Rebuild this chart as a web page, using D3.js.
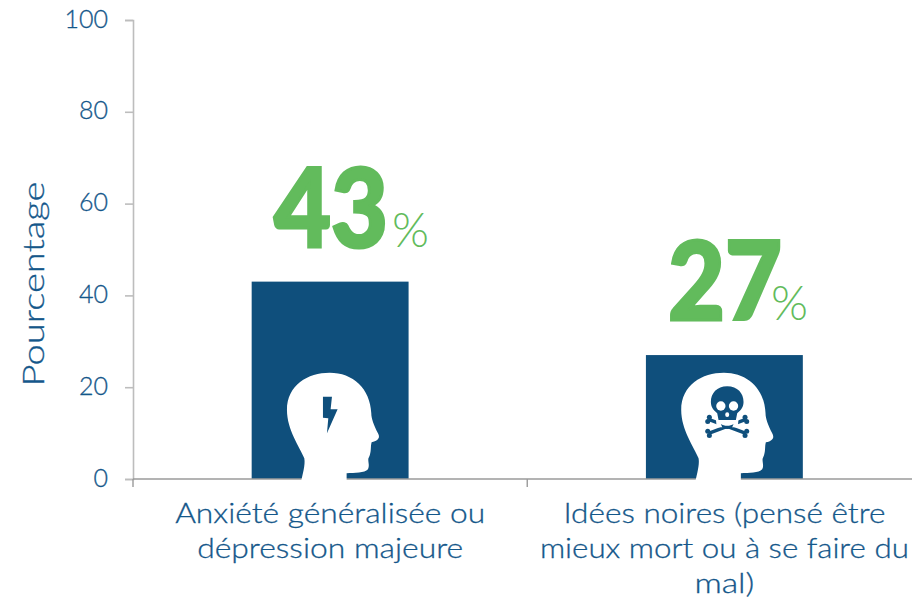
<!DOCTYPE html>
<html><head><meta charset="utf-8">
<script src="https://cdn.jsdelivr.net/npm/d3@7"></script>
<style>html,body{margin:0;padding:0;background:#fff}svg{display:block}text{font-family:Lato,sans-serif}</style>
</head><body><svg id="c" width="912" height="598"></svg>
<script>
const categories = ["Anxiété généralisée ou dépression majeure", "Idées noires (pensé être mieux mort ou à se faire du mal)"];
const categoryLines = [["Anxiété généralisée ou","dépression majeure"],["Idées noires (pensé être","mieux mort ou à se faire du","mal)"]];
const values = [43, 27];
const yTicks = [0, 20, 40, 60, 80, 100];
const yTitle = "Pourcentage";
const BLUE="#0f4f7c", TEXT="#14578a", GREEN="#62bb5c";
const svg=d3.select("#c");
const y=d3.scaleLinear().domain([0,100]).range([479,20]);
const x=d3.scaleBand().domain(categories).range([133,921.5]).padding(0);
const barW=x.bandwidth()*0.398;
const cx=c=>x(c)+x.bandwidth()/2;

svg.selectAll("rect.bar").data(values).join("rect").attr("class","bar")
 .attr("x",(d,i)=>cx(categories[i])-barW/2).attr("width",barW)
 .attr("y",d=>y(d)).attr("height",d=>y(0)-y(d)).attr("fill",BLUE);

// y axis
const ya=svg.append("g").attr("transform","translate(133,0)").call(d3.axisLeft(y).tickValues(yTicks).tickSize(8).tickPadding(16));
ya.selectAll("path,line").attr("stroke","#bdbdbd").attr("stroke-width",1.6);
ya.selectAll("text").attr("fill",TEXT).attr("stroke",TEXT).attr("stroke-width",0.3).attr("font-size",25).attr("font-weight",300).attr("dy","0.28em").attr("x",-25);
// x axis
const xa=svg.append("g").attr("transform","translate(0,479)");
xa.append("line").attr("x1",133).attr("x2",912).attr("stroke","#9a9a9a").attr("stroke-width",1.6);
xa.selectAll("line.t").data([133,x(categories[1])]).join("line").attr("class","t")
 .attr("x1",d=>d).attr("x2",d=>d).attr("y1",0).attr("y2",8).attr("stroke","#9a9a9a").attr("stroke-width",1.4);

categories.forEach((c,i)=>{
  const widths=[[310,266],[322,369,60]][i];
  categoryLines[i].forEach((l,j)=>{
    svg.append("text").attr("x",cx(c)).attr("y",523+j*35).attr("text-anchor","middle")
     .attr("fill",TEXT).attr("stroke",TEXT).attr("stroke-width",0.3).attr("font-size",27.5).attr("font-weight",300).attr("textLength",widths[j]).attr("lengthAdjust","spacingAndGlyphs").text(l);
  });
});
svg.append("text").attr("transform","translate(44,284) rotate(-90)").attr("text-anchor","middle")
 .attr("fill",TEXT).attr("stroke",TEXT).attr("stroke-width",0.3).attr("font-size",29).attr("font-weight",300).attr("textLength",205).attr("lengthAdjust","spacingAndGlyphs").text(yTitle);

// big value labels
const numX=[274,668], pctX=[392,771];
values.forEach((v,i)=>{
  svg.append("text").attr("x",numX[i]).attr("y",y(v)-35).attr("fill",GREEN).attr("stroke",GREEN).attr("stroke-width",3)
   .attr("font-size",109).attr("font-weight",900).attr("textLength",114).attr("lengthAdjust","spacingAndGlyphs").text(v);
  svg.append("text").attr("x",pctX[i]).attr("y",y(v)-35).attr("fill",GREEN)
   .attr("font-size",48).attr("font-weight",300).attr("textLength",37).attr("lengthAdjust","spacingAndGlyphs").text("%");
});

// head icons (drawn in a 3x local space)
const headPath="M153,402 C158,375 168,345 164,325 C150,290 112,240 112,180 C112,105 175,68 240,68 C310,68 362,115 365,190 C365,205 372,225 385,250 C392,262 388,272 366,277 C362,290 366,305 358,322 C352,330 362,345 355,358 C345,370 315,368 291,370 L291,402 Z";
const heads=svg.selectAll("g.head").data(categories).join("g").attr("class","head")
 .attr("transform",d=>`translate(${cx(d)},479) scale(0.3333) translate(-241.5,-387)`);
heads.append("path").attr("d",headPath).attr("fill","#fff");
d3.select(heads.nodes()[0]).append("path").attr("d","M220,140 L247,140 L243,178 L264,178 L232,250 L236,205 L220,203 Z").attr("fill",BLUE);
const sk=d3.select(heads.nodes()[1]).append("g").attr("transform","translate(-12,-30)");
[[206,238,318,280],[318,238,206,280]].forEach(b=>{
  sk.append("line").attr("x1",b[0]).attr("y1",b[1]).attr("x2",b[2]).attr("y2",b[3]).attr("stroke",BLUE).attr("stroke-width",10);
  const dx=b[2]-b[0],dy=b[3]-b[1],L=Math.hypot(dx,dy),px=-dy/L*7,py=dx/L*7;
  [[b[0],b[1]],[b[2],b[3]]].forEach(e=>{
    [1,-1].forEach(s=>sk.append("circle").attr("cx",e[0]+s*px).attr("cy",e[1]+s*py).attr("r",7.5).attr("fill",BLUE));
  });
});
sk.append("path").attr("d","M232,236 L292,236 L290,258 L234,258 Z").attr("fill","#fff").attr("stroke","#fff").attr("stroke-width",8);
sk.append("path").attr("d","M243,252 C252,259 272,259 281,252 L276,264 C268,268 256,268 248,264 Z").attr("fill",BLUE);
sk.append("path").attr("d","M262,139 C293,139 311,160 311,186 C311,204 300,212 292,220 L288,240 L236,240 L232,220 C224,212 213,204 213,186 C213,160 231,139 262,139 Z").attr("fill",BLUE);
sk.append("circle").attr("cx",243).attr("cy",198).attr("r",14).attr("fill","#fff");
sk.append("circle").attr("cx",281).attr("cy",198).attr("r",14).attr("fill","#fff");
sk.append("ellipse").attr("cx",262).attr("cy",224).attr("rx",6).attr("ry",7).attr("fill","#fff");
</script></body></html>
